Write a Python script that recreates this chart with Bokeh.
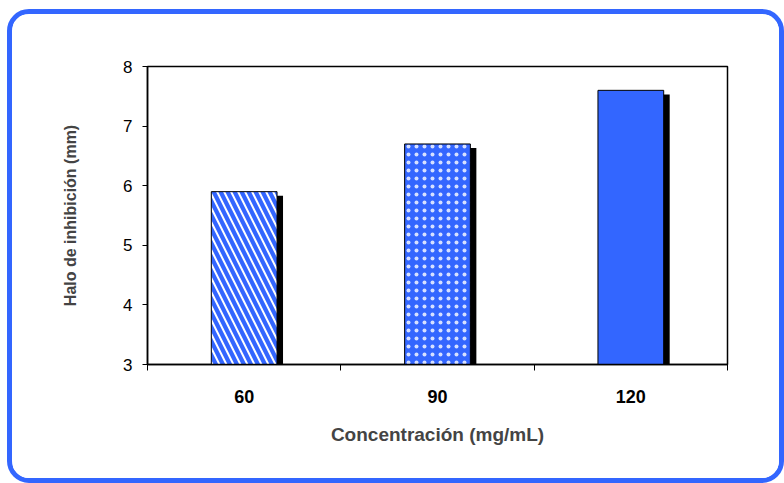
from bokeh.plotting import figure
from bokeh.models import ColumnDataSource, FixedTicker, Range1d
from bokeh.transform import dodge
from bokeh.embed import file_html
from bokeh.resources import INLINE

# data
categories = ["60", "90", "120"]
halo_mm = [5.9, 6.7, 7.6]

# styles (one per bar)
patterns = ["left_diagonal_line", "dot", "blank"]
hatch_scales = [14, 8, 10]
hatch_weights = [2.0, 0.1, 1.0]
hatch_alphas = [1.0, 0.8, 1.0]

x_idx = [i + 0.5 for i in range(len(categories))]
shadow_top = [v - 0.068 for v in halo_mm]

src = ColumnDataSource(dict(x=x_idx, top=halo_mm, stop=shadow_top, pat=patterns,
                            hs=hatch_scales, hw=hatch_weights, ha=hatch_alphas))

BLUE = "#3366FF"

p = figure(width=777, height=474, output_backend="svg", toolbar_location=None,
           x_range=Range1d(0, len(categories)), y_range=Range1d(3, 8),
           min_border_left=135, min_border_right=62, min_border_top=52, min_border_bottom=124)

p.styles = {"border": "5px solid " + BLUE, "border-radius": "22px", "box-sizing": "border-box",
            "margin-left": "7px", "margin-top": "9px", "overflow": "hidden"}

p.grid.visible = False
p.background_fill_color = "white"
p.border_fill_color = "white"
p.outline_line_color = "black"
p.outline_line_width = 1.5

# shadows
p.vbar(x=dodge("x", 0.031, range=p.x_range), top="stop", bottom=3, width=0.34, source=src,
       fill_color="black", line_color=None)
# bars
p.vbar(x="x", top="top", bottom=3, width=0.34, source=src,
       fill_color=BLUE, line_color="black", line_width=1,
       hatch_pattern="pat", hatch_color="white", hatch_weight="hw", hatch_scale="hs",
       hatch_alpha="ha")

font = "Liberation Sans"

p.xaxis.ticker = FixedTicker(ticks=x_idx, minor_ticks=list(range(len(categories) + 1)))
p.xaxis.major_label_overrides = {x: c for x, c in zip(x_idx, categories)}
p.xaxis.major_tick_out = 0
p.xaxis.major_tick_in = 0
p.xaxis.minor_tick_out = 6
p.xaxis.minor_tick_in = 0
p.xaxis.minor_tick_line_color = "black"
p.xaxis.major_label_standoff = 19
p.xaxis.major_label_text_font = font
p.xaxis.major_label_text_font_style = "bold"
p.xaxis.major_label_text_font_size = "18px"
p.xaxis.major_label_text_color = "black"
p.xaxis.axis_label = "Concentración (mg/mL)"
p.xaxis.axis_label_standoff = 18
p.xaxis.axis_label_text_font = font
p.xaxis.axis_label_text_font_style = "bold"
p.xaxis.axis_label_text_font_size = "19px"
p.xaxis.axis_line_color = "black"
p.xaxis.axis_line_width = 1.5

p.yaxis.ticker = FixedTicker(ticks=[3, 4, 5, 6, 7, 8])
p.yaxis.minor_tick_line_color = None
p.yaxis.major_tick_out = 5
p.yaxis.major_tick_in = 0
p.yaxis.major_tick_line_color = "black"
p.yaxis.major_label_standoff = 10
p.yaxis.major_label_text_font = font
p.yaxis.major_label_text_font_size = "17px"
p.yaxis.major_label_text_color = "black"
p.yaxis.axis_label = "Halo de inhibición (mm)"
p.yaxis.axis_label_standoff = 41
p.yaxis.axis_label_text_font = font
p.yaxis.axis_label_text_font_style = "bold"
p.yaxis.axis_label_text_font_size = "16px"
p.yaxis.axis_line_color = "black"
p.yaxis.axis_line_width = 1.5

open("out.html", "w").write(file_html(p, INLINE))
